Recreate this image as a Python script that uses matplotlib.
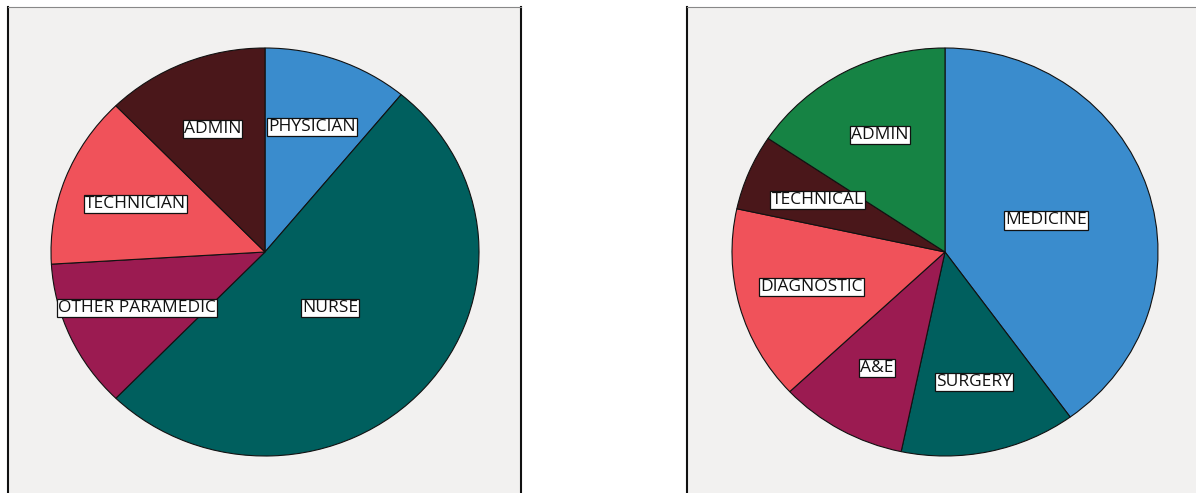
import numpy as np
import matplotlib
matplotlib.use("Agg")
import matplotlib.pyplot as plt

plt.rcParams['font.family'] = ['Open Sans', 'DejaVu Sans']

# staff groups (left pie), percent
staff_labels = ['PHYSICIAN', 'NURSE', 'OTHER PARAMEDIC', 'TECHNICIAN', 'ADMIN']
staff_values = [11.0, 51.4, 11.8, 13.7, 12.3]
staff_colors = ['#3a8ccd', '#005f5e', '#9b1b51', '#f0525a', '#4a171a']
staff_label_r = [0.65, 0.41, 0.66, 0.65, 0.65]

# departments (right pie), percent
dept_labels = ['MEDICINE', 'SURGERY', 'A&E', 'DIAGNOSTIC', 'TECHNICAL', 'ADMIN']
dept_values = [40.0, 13.3, 9.7, 15.4, 6.0, 15.6]
dept_colors = ['#3a8ccd', '#005f5e', '#9b1b51', '#f0525a', '#4a171a', '#168344']
dept_label_r = [0.50, 0.65, 0.65, 0.65, 0.65, 0.65]

W, H = 1196, 493
BG = '#f2f1f0'


def draw_panel(fig, left_px, width_px, cx_px, cy_px, rx, ry,
               values, labels, colors, label_r, right_spine=True):
    top_px = 7
    height_px = H - top_px + 10
    ax = fig.add_axes([left_px / W, (H - top_px - height_px) / H,
                       width_px / W, height_px / H])
    ax.set_facecolor(BG)
    wedges, _ = ax.pie(values, colors=colors, startangle=90, counterclock=False,
                       radius=1, center=(0, 0), frame=True,
                       wedgeprops=dict(edgecolor='#111111', linewidth=0.8))
    ax.set_aspect('auto')
    cx = cx_px - left_px
    cy = cy_px - top_px
    ax.set_xlim(-cx / rx, (width_px - cx) / rx)
    ax.set_ylim(-(height_px - cy) / ry, cy / ry)
    ax.set_xticks([])
    ax.set_yticks([])
    for w, lab, r in zip(wedges, labels, label_r):
        mid = np.deg2rad((w.theta1 + w.theta2) / 2)
        ax.text(r * np.cos(mid), r * np.sin(mid), lab, ha='center', va='center',
                fontsize=12.5, color='#111111',
                bbox=dict(boxstyle='square,pad=0.06', facecolor='white',
                          edgecolor='#111111', linewidth=0.9))
    ax.spines['bottom'].set_visible(False)
    ax.spines['top'].set_color('#888888')
    ax.spines['top'].set_linewidth(0.8)
    ax.spines['left'].set_color('#111111')
    ax.spines['left'].set_linewidth(1.5)
    ax.spines['right'].set_color('#111111')
    ax.spines['right'].set_linewidth(1.5)
    ax.spines['right'].set_visible(right_spine)
    return ax


fig = plt.figure(figsize=(W / 100, H / 100), dpi=100)
fig.patch.set_facecolor('white')

draw_panel(fig, 8, 513, 265, 252, 214, 204,
           staff_values, staff_labels, staff_colors, staff_label_r)
draw_panel(fig, 687, 540, 945, 252, 213, 204,
           dept_values, dept_labels, dept_colors, dept_label_r, right_spine=False)

fig.savefig('out.png', dpi=100, facecolor='white')
